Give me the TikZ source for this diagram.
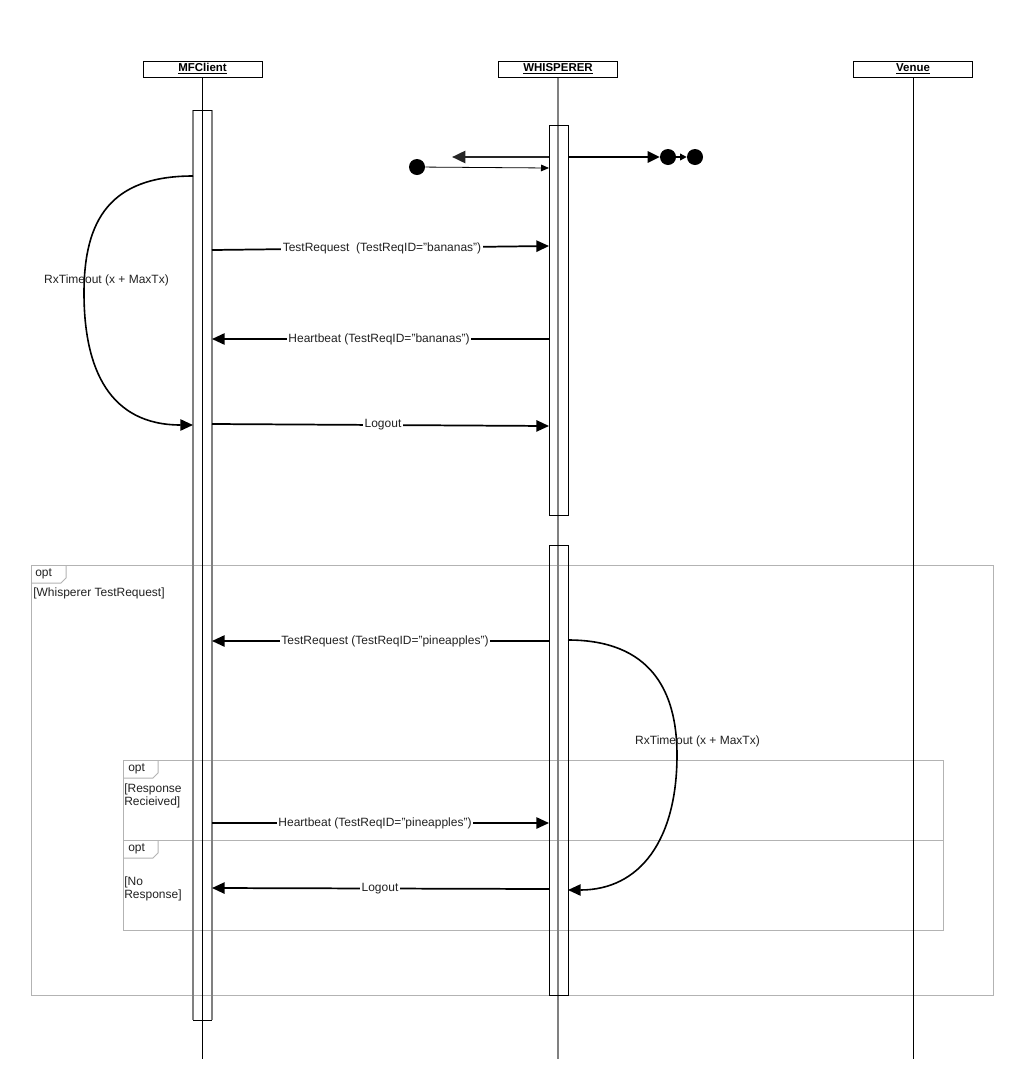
\documentclass[tikz,border=0pt]{standalone}
\usepackage{fontspec}
\setmainfont{Liberation Sans}
\usetikzlibrary{arrows.meta}
\definecolor{framegray}{HTML}{B3B3B3}
\definecolor{lifegray}{HTML}{808080}
\definecolor{txt}{HTML}{222222}
\begin{document}
\begin{tikzpicture}[x=0.75pt,y=-0.75pt,
  hdr/.style={draw=black, line width=0.75pt, minimum width=119*0.75pt, minimum height=16*0.75pt, inner sep=0pt, font=\fontsize{8.6pt}{10pt}\selectfont\bfseries},
  lbl/.style={fill=white, inner sep=1pt, font=\fontsize{9pt}{10.5pt}\selectfont, text=txt},
  clbl/.style={inner sep=0pt, font=\fontsize{9pt}{10.5pt}\selectfont, text=txt},
  ftxt/.style={inner sep=0pt, anchor=west, align=left, font=\fontsize{9pt}{9.75pt}\selectfont, text=txt},
  tip/.style={-{Triangle[length=9.5pt,width=8.5pt]}},
  msg/.style={line width=1.3pt, tip},
  curv/.style={line width=1.2pt, tip},
  frame/.style={draw=framegray, line width=0.75pt},
  dot/.style={circle, fill=black, minimum size=16*0.75pt, inner sep=0pt},
  bar/.style={draw=black, line width=0.75pt}
]
\fill[white] (0,0) rectangle (1015,1079);
\useasboundingbox (0,0) rectangle (1015,1079);

% headers
\node[hdr] (mf) at (202.5,69) {\underline{MFClient}};
\node[hdr] (wh) at (558,69) {\underline{WHISPERER}};
\node[hdr] (ve) at (913,69) {\underline{Venue}};

% lifeline ends
\coordinate (mfend) at (202.5,1059);
\coordinate (whend) at (558,1059);
\coordinate (veend) at (913,1059);

% frames
\draw[frame] (31,565) rectangle (993,995);
\draw[frame] (31,583) -- (61,583) -- (66,578) -- (66,565);
\node[ftxt] (o1) at (35,574) {opt};
\node[ftxt] (g1) at (33,593) {[Whisperer TestRequest]};

\draw[frame] (123,760) rectangle (943,840);
\draw[frame] (123,778) -- (153,778) -- (158,773) -- (158,760);
\node[ftxt] (o2) at (128,769) {opt};
\node[ftxt] (g2) at (124,795.5) {[Response\\Recieived]};

\draw[frame] (123,840) rectangle (943,930);
\draw[frame] (123,858) -- (153,858) -- (158,853) -- (158,840);
\node[ftxt] (o3) at (128,849) {opt};
\node[ftxt] (g3) at (124,888.5) {[No\\Response]};

% lifelines
\draw[black, line width=0.75pt] (mf.south) -- (mfend);
\draw[lifegray, line width=1.5pt] (wh.south) -- (whend);
\draw[black, line width=0.75pt] (ve.south) -- (veend);

% activation bars
\draw[lifegray, line width=1.4pt] (193,110) -- (193,1020) (212,110) -- (212,1020);
\draw[black, line width=0.75pt] (193,110) -- (212,110) (193,1020) -- (212,1020);
\draw[bar] (549,125) rectangle (568,515);
\draw[bar] (549,545) rectangle (568,995);

% top dots and arrows
\node[dot] (d1) at (417,167) {};
\node[dot] (d2) at (668,157) {};
\node[dot] (d3) at (695,157) {};
\coordinate (wa) at (549,157);
\coordinate (wb) at (452,157);
\coordinate (wc) at (549,168);
\coordinate (wd) at (568,157);
\draw[line width=1.9pt, black!85, -{Triangle[length=10pt,width=9pt]}] (wa) -- (wb);
\draw[line width=0.6pt, -{Triangle[length=6pt,width=5pt]}] (d1) -- (wc);
\draw[line width=1.5pt, -{Triangle[length=9pt,width=8.5pt]}] (wd) -- (d2);
\draw[line width=1pt, -{Triangle[length=5pt,width=5pt]}] (d2) -- (d3);

% messages
\coordinate (m1a) at (212,250);
\coordinate (m1b) at (549,246);
\draw[msg] (m1a) -- (m1b);
\node[lbl] (l1) at (382,248) {TestRequest\ \ (TestReqID="bananas")};

\coordinate (m2a) at (549,339);
\coordinate (m2b) at (212,339);
\draw[msg] (m2a) -- (m2b);
\node[lbl] (l2) at (379,339) {Heartbeat (TestReqID="bananas")};

\coordinate (m3a) at (212,424);
\coordinate (m3b) at (549,426);
\draw[msg] (m3a) -- (m3b);
\node[lbl] (l3) at (383,425) {Logout};

\coordinate (m4a) at (549,641);
\coordinate (m4b) at (212,641);
\draw[msg] (m4a) -- (m4b);
\node[lbl] (l4) at (385,641) {TestRequest (TestReqID="pineapples")};

\coordinate (m5a) at (212,823);
\coordinate (m5b) at (549,823);
\draw[msg] (m5a) -- (m5b);
\node[lbl] (l5) at (375,823) {Heartbeat (TestReqID="pineapples")};

\coordinate (m6a) at (549,889);
\coordinate (m6b) at (212,888);
\draw[msg] (m6a) -- (m6b);
\node[lbl] (l6) at (380,889) {Logout};

% timeout curves
\coordinate (c1a) at (193,176);
\coordinate (c1m) at (84,293);
\coordinate (c1b) at (193,425);
\draw[curv] (c1a) .. controls (110,176) and (84,220) .. (c1m) .. controls (84,370) and (110,425) .. (c1b);
\node[clbl] (t1) at (106.5,280) {RxTimeout (x + MaxTx)};

\coordinate (c2a) at (568,640);
\coordinate (c2m) at (677,755);
\coordinate (c2b) at (568,890);
\draw[curv] (c2a) .. controls (650,640) and (677,690) .. (c2m) .. controls (677,840) and (640,890) .. (c2b);
\node[clbl] (t2) at (697.5,741) {RxTimeout (x + MaxTx)};
\end{tikzpicture}
\end{document}
